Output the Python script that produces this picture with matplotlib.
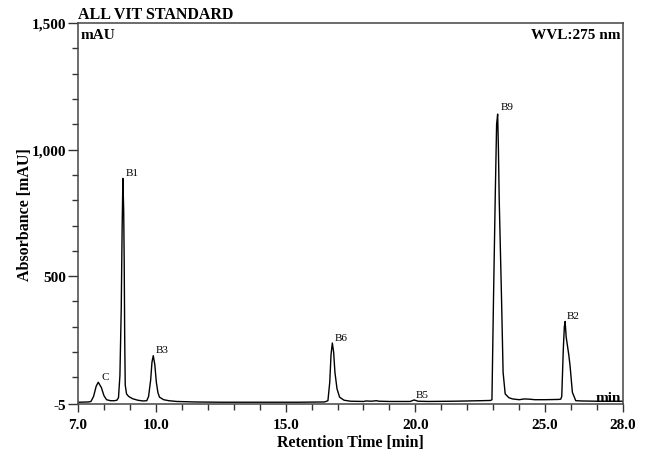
import numpy as np
import matplotlib
matplotlib.use("Agg")
import matplotlib.pyplot as plt
from matplotlib.ticker import FixedLocator

# ---- data (retention time [min], absorbance [mAU]) ----
time_min = [
    7.0, 7.4, 7.5, 7.6, 7.7, 7.78, 7.9, 8.0, 8.1, 8.25, 8.4, 8.5, 8.56, 8.615, 8.666,
    8.70, 8.73, 8.76, 8.78, 8.80, 8.82, 8.87, 8.95, 9.1, 9.3, 9.5, 9.65, 9.72, 9.8,
    9.85, 9.90, 9.96, 10.02, 10.08, 10.14, 10.3, 10.5, 10.8, 11.5, 12.5, 14.0, 15.5,
    16.5, 16.63, 16.7, 16.75, 16.80, 16.85, 16.9, 16.98, 17.08, 17.25, 17.5, 18.0,
    18.1, 18.3, 18.5, 18.6, 19.0, 19.8, 19.95, 20.1, 20.5, 21.5, 22.5, 22.9, 22.95,
    23.01, 23.08, 23.13, 23.17, 23.2, 23.23, 23.32, 23.38, 23.46, 23.6, 23.74, 24.0,
    24.2, 24.4, 24.6, 25.0, 25.5, 25.6, 25.64, 25.70, 25.74, 25.77, 25.81, 25.86,
    25.91, 25.96, 26.05, 26.18, 26.4, 27.0, 28.0,
]
absorbance_mau = [
    2, 3, 5, 25, 65, 81, 60, 28, 12, 8, 8, 10, 20, 107, 370,
    686, 886, 760, 560, 250, 70, 35, 25, 16, 10, 7, 8, 25, 90,
    160, 186, 150, 80, 40, 22, 12, 8, 5, 3, 2, 2, 2,
    3, 8, 80, 190, 236, 200, 120, 55, 22, 10, 6, 5,
    7, 6, 8, 6, 5, 5, 11, 6, 5, 6, 8, 9, 12,
    410, 831, 1100, 1140, 1000, 804, 409, 120, 35, 20, 15, 12,
    15, 14, 12, 12, 13, 14, 25, 212, 300, 321, 260, 225,
    190, 146, 41, 8, 7, 6, 6,
]

peak_names = ["C", "B1", "B3", "B6", "B5", "B9", "B2"]
peak_times = [7.78, 8.73, 9.90, 16.80, 19.95, 23.17, 25.77]

x_major_ticks = [7.0, 10.0, 15.0, 20.0, 25.0, 28.0]
y_major_ticks = [-5, 500, 1000, 1500]
y_tick_labels = ["-5", "500", "1,000", "1,500"]

title_text = "ALL VIT STANDARD"
unit_text = "mAU"
wavelength_text = "WVL:275 nm"
x_label = "Retention Time [min]"
y_label = "Absorbance [mAU]"

# ---- drawing ----
SERIF = ["Liberation Serif", "DejaVu Serif"]
plt.rcParams["font.family"] = SERIF

fig = plt.figure(figsize=(6.48, 4.52), dpi=100)
ax = fig.add_axes([78 / 648, 1 - 405 / 452, (623 - 78) / 648, (405 - 24) / 452])

ax.plot(time_min, absorbance_mau, color="black", lw=1.0, solid_joinstyle="round")

ax.set_xlim(7.0, 28.0)
ax.set_ylim(-5, 1500)

ax.xaxis.set_major_locator(FixedLocator(x_major_ticks))
ax.xaxis.set_minor_locator(FixedLocator([t for t in range(8, 28)]))
ax.yaxis.set_major_locator(FixedLocator(y_major_ticks))
ax.yaxis.set_minor_locator(FixedLocator([v for v in range(100, 1500, 100) if v not in (500, 1000)]))
ax.set_xticklabels([f"{t:.1f}" for t in x_major_ticks])
ax.set_yticklabels(y_tick_labels)

for lab in ax.get_xticklabels() + ax.get_yticklabels():
    lab.set_fontweight("bold")
    lab.set_fontsize(11)

ax.tick_params(axis="x", which="major", direction="out", length=6, width=1.0,
               color="#333333", pad=4)
ax.tick_params(axis="y", which="major", direction="out", length=7.5, width=1.0,
               color="#333333", pad=0.8)
ax.tick_params(axis="both", which="minor", direction="out", length=4, width=1.0,
               color="#333333")

for sp in ax.spines.values():
    sp.set_color("#444444")
    sp.set_linewidth(1.1)

ax.set_xlabel(x_label, fontsize=11.5, fontweight="bold", labelpad=2.5)
ax.set_ylabel(y_label, fontsize=11.5, fontweight="bold", labelpad=-0.5)

ax.text(0.0, 1.012, title_text, transform=ax.transAxes, ha="left", va="baseline",
        fontsize=11.5, fontweight="bold")
ax.text(0.004, 0.987, unit_text, transform=ax.transAxes, ha="left", va="top",
        fontsize=11, fontweight="bold")
ax.text(0.996, 0.987, wavelength_text, transform=ax.transAxes, ha="right", va="top",
        fontsize=11, fontweight="bold")
ax.text(0.997, 0.008, "min", transform=ax.transAxes, ha="right", va="baseline",
        fontsize=11, fontweight="bold")

t_arr = np.asarray(time_min)
a_arr = np.asarray(absorbance_mau)
label_offsets = {"C": (2.5, 1), "B1": (2, 1), "B3": (2, 1), "B6": (2, 1),
                 "B5": (1, 1), "B9": (2, 2), "B2": (1, 1)}
for name, t in zip(peak_names, peak_times):
    near = np.abs(t_arr - t) <= 0.08
    h = a_arr[near].max()
    dx, dy = label_offsets[name]
    ax.annotate(name, xy=(t, h), xytext=(dx, dy), textcoords="offset points",
                ha="left", va="bottom", fontsize=8)

fig.savefig("out.png", dpi=100)
